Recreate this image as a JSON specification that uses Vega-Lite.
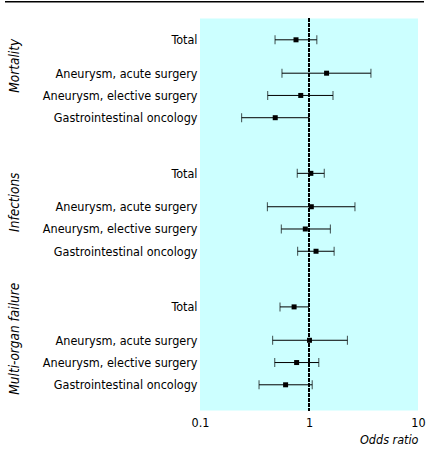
{
  "$schema": "https://vega.github.io/schema/vega-lite/v6.json",
  "padding": {"left": 5, "top": 1, "right": 0, "bottom": 0},
  "config": {
    "font": "DejaVu Sans Condensed",
    "view": {"stroke": null}
  },
  "spacing": 14.5,
  "vconcat": [
    {
      "width": 419,
      "height": 1.5,
      "view": {"fill": "black"},
      "mark": {"type": "text"},
      "encoding": {"text": {"value": ""}}
    },
    {
      "spacing": 175,
      "bounds": "flush",
      "hconcat": [
        {
          "width": 20,
          "height": 392,
          "data": {"values": [
            {"group": "Mortality"},
            {"group": "Infections"},
            {"group": "Multi-organ failure"}
          ]},
          "mark": {"type": "text", "angle": 270, "fontStyle": "italic", "fontSize": 13.5, "color": "black"},
          "encoding": {
            "y": {"field": "group", "type": "nominal", "axis": null,
                  "scale": {"type": "point", "domain": ["Mortality", "Infections", "Multi-organ failure"], "padding": 0.436, "align": 0.397}},
            "text": {"field": "group"}
          }
        },
        {
          "width": 218,
          "height": 392,
          "view": {"fill": "#ccffff", "stroke": null},
          "data": {"values": [
            {"key": "M|Total", "or": 0.76, "lo": 0.488, "hi": 1.18},
            {"key": "M|Aneurysm, acute surgery", "or": 1.45, "lo": 0.565, "hi": 3.7},
            {"key": "M|Aneurysm, elective surgery", "or": 0.84, "lo": 0.418, "hi": 1.66},
            {"key": "M|Gastrointestinal oncology", "or": 0.49, "lo": 0.241, "hi": 1.0},
            {"key": "I|Total", "or": 1.04, "lo": 0.78, "hi": 1.38},
            {"key": "I|Aneurysm, acute surgery", "or": 1.05, "lo": 0.415, "hi": 2.64},
            {"key": "I|Aneurysm, elective surgery", "or": 0.925, "lo": 0.557, "hi": 1.57},
            {"key": "I|Gastrointestinal oncology", "or": 1.16, "lo": 0.787, "hi": 1.7},
            {"key": "F|Total", "or": 0.73, "lo": 0.542, "hi": 0.99},
            {"key": "F|Aneurysm, acute surgery", "or": 1.01, "lo": 0.464, "hi": 2.25},
            {"key": "F|Aneurysm, elective surgery", "or": 0.77, "lo": 0.485, "hi": 1.23},
            {"key": "F|Gastrointestinal oncology", "or": 0.61, "lo": 0.348, "hi": 1.07}
          ]},
          "encoding": {
            "y": {
              "field": "key", "type": "nominal",
              "scale": {
                "type": "point",
                "padding": 0.612,
                "align": 0.747,
                "domain": [
                  "t1",
                  "M|Total", "s1", "s2", "M|Aneurysm, acute surgery", "s3", "M|Aneurysm, elective surgery", "s4", "M|Gastrointestinal oncology",
                  "s5", "s6", "s7", "s8",
                  "I|Total", "s9", "s10", "I|Aneurysm, acute surgery", "s11", "I|Aneurysm, elective surgery", "s12", "I|Gastrointestinal oncology",
                  "s13", "s14", "s15", "s16",
                  "F|Total", "s17", "s18", "F|Aneurysm, acute surgery", "s19", "F|Aneurysm, elective surgery", "s20", "F|Gastrointestinal oncology",
                  "b1", "b2"
                ]
              },
              "axis": {
                "title": null, "domain": false, "ticks": false, "grid": false,
                "labelPadding": 3, "labelFontSize": 12.5, "labelColor": "black",
                "labelExpr": "indexof(datum.label, '|') >= 0 ? substring(datum.label, 2) : ''"
              }
            }
          },
          "layer": [
            {
              "mark": {"type": "rule", "color": "black", "strokeWidth": 1.5, "strokeDash": [3, 2]},
              "encoding": {
                "y": null,
                "x": {"datum": 1, "type": "quantitative", "scale": {"type": "log", "domain": [0.1, 10]}}
              }
            },
            {
              "mark": {"type": "errorbar", "color": "black", "ticks": {"size": 9, "color": "black"}, "rule": {"strokeWidth": 1}},
              "encoding": {
                "x": {
                  "field": "lo", "type": "quantitative",
                  "scale": {"type": "log", "domain": [0.1, 10]},
                  "axis": {
                    "values": [0.1, 1, 10], "format": "~g",
                    "domain": false, "ticks": false, "grid": false, "labelFlush": false,
                    "labelFontSize": 12.5, "labelColor": "black", "labelPadding": 6,
                    "title": "Odds ratio", "titleFontSize": 12.5, "titleFontWeight": "normal", "titleFontStyle": "italic",
                    "titleColor": "black", "titleAnchor": "end", "titleAlign": "right", "titlePadding": 4
                  }
                },
                "x2": {"field": "hi"}
              }
            },
            {
              "mark": {"type": "square", "size": 25, "color": "black", "opacity": 1},
              "encoding": {
                "x": {"field": "or", "type": "quantitative"}
              }
            }
          ]
        }
      ]
    }
  ]
}
